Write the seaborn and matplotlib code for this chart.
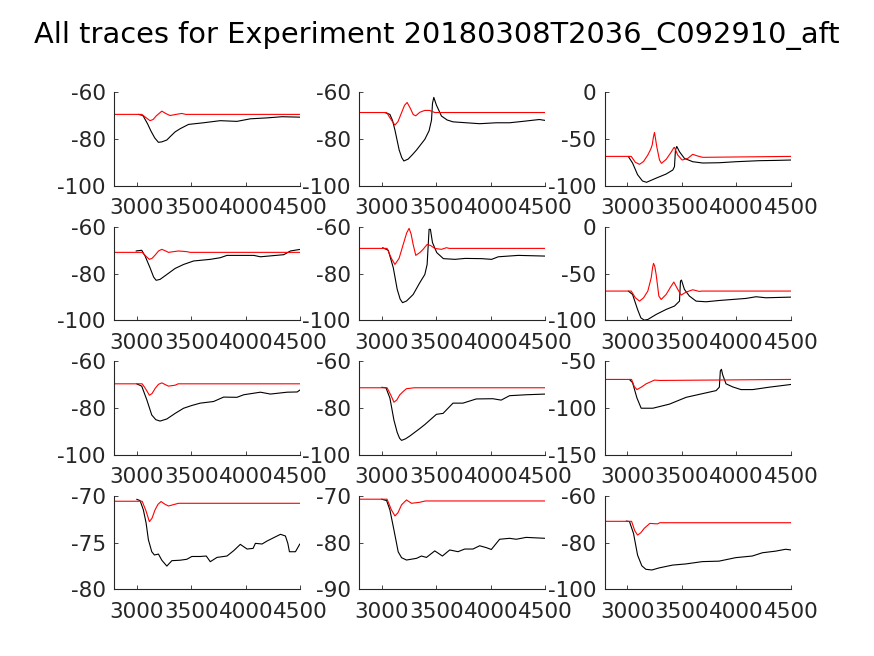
import matplotlib
matplotlib.use("Agg")
import matplotlib.pyplot as plt
import seaborn as sns

sns.set_theme(style="white")
plt.rcParams['font.family'] = ['DejaVu Sans']

TITLE = "All traces for Experiment 20180308T2036_C092910_aft"
XTICKS = [3000, 3500, 4000, 4500]

# ---- panel (0,0)
p00_bx = [3015, 3050, 3061, 3100, 3130, 3165, 3199, 3230, 3276, 3310, 3352, 3400, 3475, 3612, 3765, 3918, 4041, 4194, 4332, 4500]
p00_by = [-69.4, -69.8, -70.2, -73.5, -76.5, -79.5, -81.4, -81.2, -80.4, -78.8, -76.9, -75.5, -73.7, -73.0, -72.1, -72.4, -71.3, -70.9, -70.4, -70.6]
p00_rx = [2795, 3046, 3085, 3122, 3150, 3180, 3230, 3265, 3306, 3360, 3413, 3450, 4500]
p00_ry = [-69.4, -69.4, -70.8, -72.1, -71.6, -70.0, -68.0, -69.0, -69.9, -69.4, -69.0, -69.4, -69.4]

# ---- panel (0,1)
p01_bx = [3030, 3076, 3100, 3122, 3161, 3185, 3204, 3243, 3280, 3320, 3396, 3435, 3457, 3466, 3478, 3502, 3548, 3600, 3654, 3776, 3898, 4050, 4172, 4293, 4445, 4500]
p01_by = [-68.6, -69.4, -72.0, -76.1, -84.7, -88.0, -89.4, -88.6, -86.8, -84.7, -80.1, -76.4, -71.9, -64.7, -62.1, -65.4, -70.1, -71.8, -72.6, -73.0, -73.4, -73.0, -73.0, -72.4, -71.6, -72.0]
p01_rx = [2795, 3046, 3085, 3122, 3150, 3180, 3210, 3234, 3260, 3290, 3313, 3350, 3395, 3440, 3487, 4500]
p01_ry = [-68.6, -68.6, -71.5, -74.0, -72.5, -69.0, -65.5, -64.3, -66.5, -69.5, -70.0, -68.5, -67.7, -67.7, -68.6, -68.6]

# ---- panel (0,2)
p02_bx = [3010, 3049, 3095, 3140, 3177, 3262, 3357, 3418, 3433, 3442, 3454, 3479, 3524, 3600, 3692, 3844, 3997, 4210, 4360, 4500]
p02_by = [-68.6, -75.7, -88.2, -95.0, -96.4, -92.1, -87.5, -83.2, -79.6, -61.8, -57.9, -63.6, -70.7, -74.3, -75.7, -75.4, -74.3, -73.2, -72.9, -72.5]
p02_rx = [2795, 3037, 3075, 3113, 3150, 3189, 3215, 3229, 3240, 3250, 3260, 3271, 3296, 3314, 3357, 3400, 3427, 3433, 3463, 3503, 3555, 3600, 3646, 3692, 4500]
p02_ry = [-68.6, -68.6, -75.0, -77.1, -74.0, -67.1, -61.0, -56.4, -48.0, -42.9, -50.0, -58.2, -72.5, -76.0, -71.8, -64.5, -59.3, -58.9, -67.1, -72.5, -70.7, -66.4, -68.2, -69.6, -68.6]

# ---- panel (1,0)
p10_bx = [2994, 3046, 3077, 3122, 3155, 3178, 3214, 3276, 3352, 3429, 3521, 3674, 3765, 3827, 4072, 4133, 4347, 4408, 4500]
p10_by = [-70.3, -70.0, -72.5, -77.5, -81.5, -82.9, -82.5, -80.4, -77.8, -76.1, -74.6, -73.9, -73.2, -72.2, -72.2, -72.8, -71.9, -70.3, -69.6]
p10_rx = [2795, 3050, 3085, 3116, 3140, 3170, 3200, 3230, 3260, 3291, 3383, 3459, 3490, 4500]
p10_ry = [-70.9, -70.9, -72.6, -73.9, -73.5, -72.0, -70.3, -69.6, -70.2, -70.9, -70.3, -70.6, -70.9, -70.9]

# ---- panel (1,1)
p11_bx = [3009, 3061, 3107, 3143, 3170, 3192, 3228, 3289, 3350, 3396, 3417, 3435, 3447, 3466, 3505, 3566, 3673, 3764, 3917, 4008, 4069, 4252, 4500]
p11_by = [-68.9, -70.0, -77.5, -86.8, -91.0, -92.5, -91.8, -89.0, -83.9, -80.4, -76.1, -61.0, -61.0, -66.7, -71.0, -73.6, -73.9, -73.5, -73.6, -73.9, -72.8, -72.2, -72.5]
p11_rx = [2795, 3050, 3090, 3122, 3160, 3198, 3230, 3252, 3270, 3289, 3313, 3350, 3380, 3417, 3450, 3487, 3548, 3594, 3620, 4500]
p11_ry = [-69.2, -69.2, -73.5, -76.1, -73.5, -67.5, -62.5, -60.6, -63.0, -67.5, -72.2, -71.0, -69.6, -67.5, -68.0, -69.2, -69.6, -68.9, -69.2, -69.2]

# ---- panel (1,2)
p12_bx = [3010, 3049, 3095, 3125, 3156, 3189, 3265, 3357, 3433, 3479, 3488, 3497, 3524, 3570, 3631, 3722, 3844, 3966, 4088, 4180, 4271, 4500]
p12_by = [-68.8, -72.4, -88.5, -97.5, -100.0, -99.3, -93.9, -88.5, -84.9, -79.6, -58.1, -57.0, -67.0, -74.2, -79.6, -80.3, -78.9, -77.8, -76.7, -74.9, -76.0, -75.3]
p12_rx = [2795, 3037, 3075, 3113, 3150, 3189, 3220, 3232, 3241, 3252, 3265, 3290, 3311, 3357, 3400, 3427, 3463, 3494, 3540, 3600, 3661, 3680, 4500]
p12_ry = [-68.8, -68.8, -76.0, -79.6, -76.0, -68.8, -54.5, -44.0, -39.1, -42.0, -50.9, -74.2, -77.8, -72.4, -64.0, -59.1, -67.0, -73.1, -69.9, -67.4, -69.2, -68.8, -68.8]

# ---- panel (2,0)
p20_bx = [3000, 3046, 3092, 3138, 3175, 3214, 3276, 3352, 3429, 3505, 3582, 3704, 3796, 3918, 3980, 4133, 4225, 4378, 4470, 4500]
p20_by = [-69.6, -70.6, -76.4, -83.0, -85.0, -85.6, -84.7, -82.3, -80.1, -78.9, -77.9, -77.2, -75.3, -75.4, -74.3, -73.2, -74.0, -73.2, -73.1, -72.1]
p20_rx = [2795, 3050, 3085, 3116, 3140, 3170, 3200, 3230, 3260, 3291, 3352, 3380, 4500]
p20_ry = [-69.6, -69.6, -72.0, -74.5, -73.8, -71.5, -69.8, -69.2, -69.9, -70.6, -70.2, -69.6, -69.6]

# ---- panel (2,1)
p21_bx = [3000, 3040, 3076, 3113, 3143, 3165, 3183, 3220, 3259, 3350, 3396, 3502, 3563, 3654, 3745, 3867, 4019, 4095, 4172, 4324, 4500]
p21_by = [-71.1, -71.3, -75.7, -85.2, -90.5, -93.0, -93.9, -93.2, -92.0, -88.8, -87.1, -82.7, -82.3, -77.9, -77.9, -76.1, -76.0, -76.6, -74.7, -74.3, -74.0]
p21_rx = [2795, 3050, 3085, 3113, 3140, 3167, 3200, 3228, 3300, 4500]
p21_ry = [-71.3, -71.3, -74.5, -77.5, -76.5, -74.3, -72.8, -71.7, -71.3, -71.3]

# ---- panel (2,2)
p22_bx = [3020, 3049, 3089, 3128, 3235, 3387, 3540, 3692, 3814, 3844, 3853, 3863, 3875, 3905, 3966, 4042, 4149, 4302, 4500]
p22_by = [-69.3, -72.7, -89.1, -100.2, -100.2, -95.8, -88.5, -84.5, -81.3, -77.6, -60.2, -58.4, -64.5, -74.0, -77.3, -80.2, -80.2, -77.6, -74.7]
p22_rx = [2795, 3040, 3065, 3089, 3130, 3174, 3250, 3300, 4500]
p22_ry = [-69.3, -69.3, -77.0, -80.2, -77.5, -74.0, -70.0, -70.4, -69.3]

# ---- panel (3,0)
p30_bx = [3000, 3031, 3061, 3086, 3107, 3138, 3162, 3199, 3230, 3276, 3322, 3398, 3459, 3505, 3582, 3637, 3674, 3735, 3827, 3888, 3949, 4011, 4066, 4087, 4148, 4194, 4255, 4317, 4362, 4384, 4399, 4454, 4494]
p30_by = [-70.36, -70.5, -71.5, -72.9, -74.7, -75.99, -76.34, -76.24, -76.9, -77.53, -76.95, -76.9, -76.8, -76.5, -76.5, -76.45, -77.06, -76.6, -76.45, -75.88, -75.2, -75.7, -75.63, -75.09, -75.16, -74.84, -74.48, -74.12, -74.3, -75.09, -75.99, -75.99, -75.16]
p30_rx = [2795, 3050, 3085, 3116, 3140, 3168, 3195, 3223, 3260, 3291, 3383, 4500]
p30_ry = [-70.57, -70.57, -71.6, -72.76, -72.4, -71.5, -70.9, -70.6, -70.9, -71.08, -70.79, -70.79]

# ---- panel (3,1)
p31_bx = [3000, 3046, 3076, 3113, 3152, 3183, 3228, 3320, 3365, 3411, 3487, 3557, 3624, 3700, 3761, 3837, 3898, 3959, 4005, 4081, 4172, 4233, 4324, 4500]
p31_by = [-70.7, -71.0, -73.0, -77.3, -82.0, -83.26, -83.76, -83.4, -82.9, -83.2, -81.8, -82.9, -81.6, -81.97, -81.4, -81.4, -80.7, -81.1, -81.5, -79.3, -79.1, -79.3, -78.9, -79.1]
p31_rx = [2795, 3050, 3090, 3122, 3150, 3183, 3228, 3274, 3350, 3400, 4500]
p31_ry = [-70.7, -70.7, -73.0, -74.3, -73.6, -71.9, -70.86, -71.58, -71.36, -71.08, -71.08]

# ---- panel (3,2)
p32_bx = [2991, 3021, 3058, 3095, 3134, 3171, 3226, 3293, 3415, 3537, 3689, 3841, 3994, 4146, 4238, 4360, 4451, 4500]
p32_by = [-70.8, -71.0, -76.1, -85.4, -90.0, -91.5, -91.8, -90.9, -89.7, -89.2, -88.2, -88.0, -86.5, -85.8, -84.4, -83.7, -82.9, -83.2]
p32_rx = [2795, 3040, 3070, 3095, 3125, 3156, 3207, 3277, 3300, 4500]
p32_ry = [-70.9, -70.9, -75.0, -76.8, -75.8, -73.9, -71.8, -72.0, -71.5, -71.5]

PANELS = [
    [(p00_bx, p00_by, p00_rx, p00_ry, (-100, -60), [-100, -80, -60]),
     (p01_bx, p01_by, p01_rx, p01_ry, (-100, -60), [-100, -80, -60]),
     (p02_bx, p02_by, p02_rx, p02_ry, (-100, 0), [-100, -50, 0])],
    [(p10_bx, p10_by, p10_rx, p10_ry, (-100, -60), [-100, -80, -60]),
     (p11_bx, p11_by, p11_rx, p11_ry, (-100, -60), [-100, -80, -60]),
     (p12_bx, p12_by, p12_rx, p12_ry, (-100, 0), [-100, -50, 0])],
    [(p20_bx, p20_by, p20_rx, p20_ry, (-100, -60), [-100, -80, -60]),
     (p21_bx, p21_by, p21_rx, p21_ry, (-100, -60), [-100, -80, -60]),
     (p22_bx, p22_by, p22_rx, p22_ry, (-150, -50), [-150, -100, -50])],
    [(p30_bx, p30_by, p30_rx, p30_ry, (-80, -70), [-80, -75, -70]),
     (p31_bx, p31_by, p31_rx, p31_ry, (-90, -70), [-90, -80, -70]),
     (p32_bx, p32_by, p32_rx, p32_ry, (-100, -60), [-100, -80, -60])],
]

fig = plt.figure(figsize=(8.74, 6.56), dpi=100)
fig.patch.set_facecolor("white")
lefts = [0.1308, 0.4110, 0.6920]
bottoms = [0.717, 0.512, 0.307, 0.102]
W, H = 0.2130, 0.142
DARK = "#262626"

for r in range(4):
    for c in range(3):
        bx, by, rx, ry, ylim, yt = PANELS[r][c]
        ax = fig.add_axes([lefts[c], bottoms[r], W, H])
        ax.set_facecolor("white")
        sns.lineplot(x=bx, y=by, color="black", linewidth=0.8, ax=ax)
        sns.lineplot(x=rx, y=ry, color="red", linewidth=0.8, ax=ax)
        ax.set_xlim(2795, 4500)
        ax.set_ylim(*ylim)
        ax.set_xticks(XTICKS)
        ax.set_xticklabels([str(t) for t in XTICKS])
        ax.set_yticks(yt)
        ax.set_yticklabels([str(t) for t in yt])
        for s in ["top", "right"]:
            ax.spines[s].set_visible(False)
        for s in ["left", "bottom"]:
            ax.spines[s].set_color(DARK)
            ax.spines[s].set_linewidth(0.8)
        ax.tick_params(axis="both", direction="in", length=3, width=0.6,
                       colors=DARK, labelsize=15.5,
                       bottom=True, left=True)
        ax.tick_params(axis="x", pad=9)
        ax.tick_params(axis="y", pad=6)
        ax.set_xlabel("")
        ax.set_ylabel("")

fig.suptitle(TITLE, fontsize=20.8, y=0.968, color="black")
fig.savefig("out.png", dpi=100, facecolor="white")
